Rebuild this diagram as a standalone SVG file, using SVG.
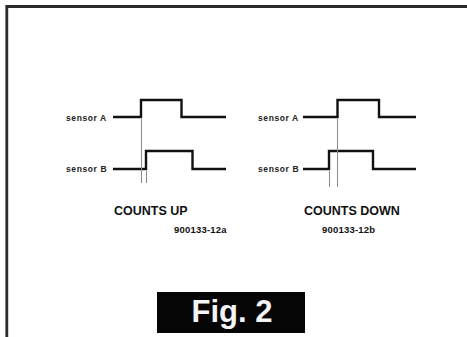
<svg xmlns="http://www.w3.org/2000/svg" width="467" height="337" viewBox="0 0 467 337">
<style>
.wave{fill:none;stroke:#111;stroke-width:2.4;stroke-linejoin:miter}
.guide{stroke:#8a8a8a;stroke-width:1}
.lbl{font-family:"Liberation Sans",Arial,sans-serif;font-weight:bold;font-size:8.5px;fill:#222;letter-spacing:0.6px}
.cap{font-family:"Liberation Sans",Arial,sans-serif;font-weight:bold;font-size:12.5px;fill:#111}
.num{font-family:"Liberation Sans",Arial,sans-serif;font-weight:bold;font-size:9.5px;fill:#111;letter-spacing:0.2px}
</style>
<rect width="467" height="337" fill="#fff"/>
<g id="frame">
<path d="M6.8 337 V6.5 H467" fill="none" stroke="#2a2a2a" stroke-width="2.8"/>
</g>
<g id="left-diagram">
<text class="lbl" x="66" y="121">sensor A</text>
<text class="lbl" x="66" y="172">sensor B</text>
<path class="wave" d="M113 117 H141 V100 H181.5 V117 H226"/>
<path class="wave" d="M113 169 H146 V151 H192.5 V169 H226"/>
</g>
<g id="right-diagram">
<text class="lbl" x="258" y="121">sensor A</text>
<text class="lbl" x="258" y="172">sensor B</text>
<path class="wave" d="M303 117 H337.5 V100 H379 V117 H416"/>
<path class="wave" d="M303 169 H329 V151 H373 V169 H416"/>
</g>
<g id="connectors">
<line class="guide" x1="141.5" y1="119" x2="141.5" y2="183"/>
<line class="guide" x1="146.5" y1="171" x2="146.5" y2="183"/>
<line class="guide" x1="337.5" y1="119" x2="337.5" y2="187"/>
<line class="guide" x1="329.5" y1="171" x2="329.5" y2="187"/>
</g>
<g id="captions">
<text class="cap" x="114" y="214.5">COUNTS UP</text>
<text class="num" x="174" y="232.5">900133-12a</text>
<text class="cap" x="304" y="214.5">COUNTS DOWN</text>
<text class="num" x="322" y="232.5">900133-12b</text>
</g>
<g id="fig-label">
<rect x="157" y="292" width="148" height="41" fill="#050505"/>
<text x="232" y="322" text-anchor="middle" font-family="Liberation Sans,Arial,sans-serif" font-weight="bold" font-size="31" fill="#f4f4f4">Fig. 2</text>
</g>
</svg>
